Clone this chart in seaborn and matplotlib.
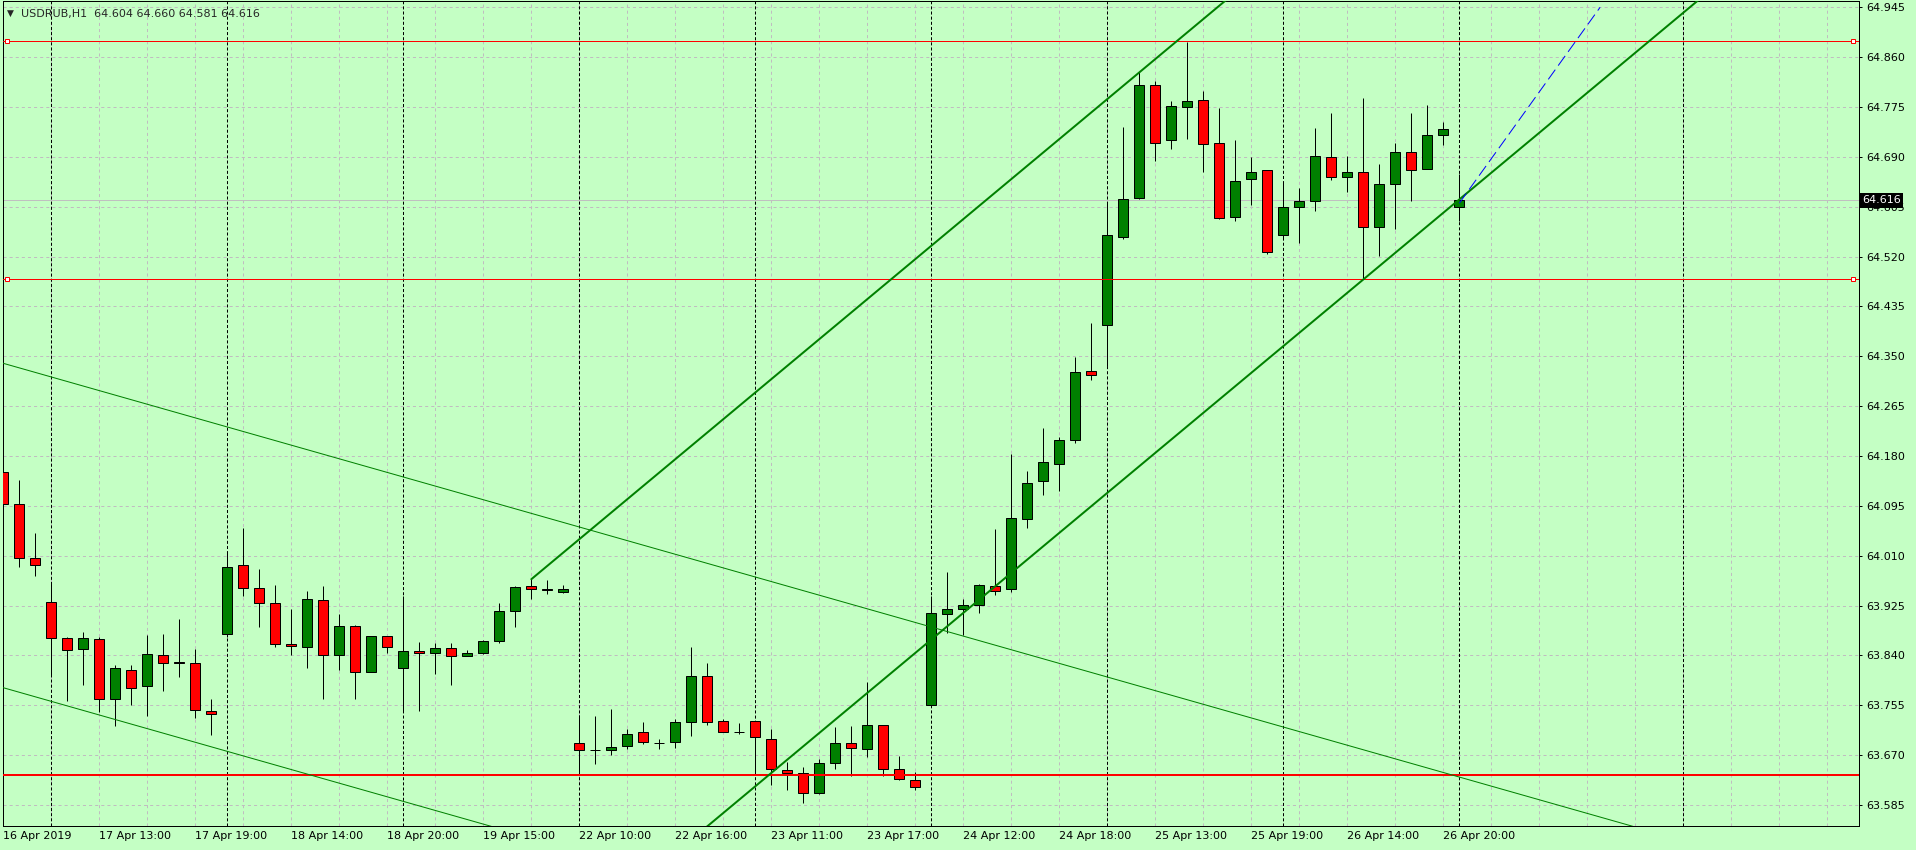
import numpy as np
import pandas as pd
import matplotlib
matplotlib.use('Agg')
import matplotlib.pyplot as plt
import matplotlib.transforms as mtransforms
from matplotlib.ticker import MultipleLocator
import seaborn as sns

# === Data: USDRUB H1 bars ===
opens = [64.152, 64.099, 64.007, 63.931, 63.869, 63.851, 63.868, 63.765, 63.815, 63.788,
         63.840, 63.829, 63.828, 63.745, 63.876, 63.994, 63.955, 63.929, 63.859, 63.854,
         63.934, 63.840, 63.890, 63.811, 63.873, 63.818, 63.847, 63.844, 63.852, 63.839,
         63.845, 63.864, 63.915, 63.958, 63.954, 63.949, 63.691, 63.679, 63.679, 63.685,
         63.709, 63.691, 63.692, 63.726, 63.805, 63.728, 63.709, 63.728, 63.697, 63.645,
         63.640, 63.605, 63.657, 63.691, 63.680, 63.721, 63.647, 63.628, 63.755, 63.910,
         63.920, 63.926, 63.958, 63.953, 64.072, 64.137, 64.166, 64.207, 64.325, 64.403,
         64.554, 64.620, 64.813, 64.719, 64.775, 64.787, 64.714, 64.587, 64.653, 64.667,
         64.556, 64.604, 64.615, 64.690, 64.656, 64.665, 64.570, 64.644, 64.699, 64.670,
         64.728, 64.604]
highs = [64.185, 64.139, 64.048, 63.962, 63.871, 63.880, 63.871, 63.823, 63.823, 63.875,
         63.877, 63.902, 63.851, 63.766, 64.014, 64.057, 63.987, 63.960, 63.919, 63.950,
         63.958, 63.911, 63.892, 63.874, 63.874, 63.941, 63.863, 63.861, 63.861, 63.849,
         63.866, 63.929, 63.958, 63.970, 63.969, 63.960, 63.738, 63.737, 63.748, 63.714,
         63.727, 63.698, 63.731, 63.855, 63.827, 63.731, 63.725, 63.728, 63.715, 63.659,
         63.650, 63.664, 63.718, 63.720, 63.794, 63.722, 63.668, 63.641, 63.941, 63.982,
         63.936, 63.962, 64.056, 64.184, 64.155, 64.227, 64.213, 64.349, 64.406, 64.613,
         64.741, 64.834, 64.820, 64.786, 64.886, 64.803, 64.773, 64.718, 64.689, 64.667,
         64.646, 64.637, 64.740, 64.764, 64.691, 64.790, 64.677, 64.713, 64.764, 64.779,
         64.749, 64.660]
lows = [64.092, 63.990, 63.976, 63.805, 63.763, 63.790, 63.744, 63.719, 63.755, 63.737,
        63.780, 63.804, 63.734, 63.705, 63.872, 63.942, 63.889, 63.855, 63.840, 63.818,
        63.765, 63.816, 63.765, 63.811, 63.844, 63.743, 63.746, 63.809, 63.789, 63.839,
        63.843, 63.862, 63.889, 63.937, 63.944, 63.947, 63.641, 63.655, 63.670, 63.680,
        63.689, 63.681, 63.683, 63.702, 63.721, 63.709, 63.706, 63.641, 63.620, 63.610,
        63.588, 63.604, 63.646, 63.634, 63.667, 63.634, 63.627, 63.610, 63.754, 63.878,
        63.875, 63.913, 63.943, 63.949, 64.058, 64.114, 64.121, 64.202, 64.310, 64.334,
        64.550, 64.618, 64.683, 64.703, 64.720, 64.664, 64.584, 64.580, 64.608, 64.525,
        64.550, 64.543, 64.598, 64.651, 64.630, 64.481, 64.521, 64.567, 64.615, 64.670,
        64.710, 64.581]
closes = [64.099, 64.007, 63.995, 63.869, 63.849, 63.869, 63.765, 63.818, 63.784, 63.842,
          63.827, 63.828, 63.747, 63.740, 63.990, 63.955, 63.929, 63.859, 63.856, 63.936,
          63.840, 63.890, 63.811, 63.873, 63.854, 63.847, 63.844, 63.852, 63.839, 63.845,
          63.864, 63.915, 63.956, 63.954, 63.951, 63.953, 63.679, 63.678, 63.684, 63.706,
          63.692, 63.690, 63.726, 63.805, 63.727, 63.709, 63.709, 63.701, 63.647, 63.640,
          63.605, 63.657, 63.691, 63.682, 63.721, 63.647, 63.629, 63.616, 63.912, 63.920,
          63.926, 63.960, 63.950, 64.074, 64.134, 64.170, 64.207, 64.323, 64.318, 64.556,
          64.619, 64.813, 64.714, 64.777, 64.786, 64.712, 64.586, 64.649, 64.665, 64.527,
          64.604, 64.615, 64.692, 64.656, 64.665, 64.570, 64.644, 64.699, 64.667, 64.728,
          64.738, 64.616]

x_labels = ['16 Apr 2019', '17 Apr 13:00', '17 Apr 19:00', '18 Apr 14:00', '18 Apr 20:00',
            '19 Apr 15:00', '22 Apr 10:00', '22 Apr 16:00', '23 Apr 11:00', '23 Apr 17:00',
            '24 Apr 12:00', '24 Apr 18:00', '25 Apr 13:00', '25 Apr 19:00', '26 Apr 14:00',
            '26 Apr 20:00']
day_start_bars = [3, 14, 25, 36, 47, 58, 69, 80, 91, 105]
price_ticks = [64.945, 64.860, 64.775, 64.690, 64.605, 64.520, 64.435, 64.350, 64.265,
               64.180, 64.095, 64.010, 63.925, 63.840, 63.755, 63.670, 63.585]

red_levels = [64.887, 64.481]      # thin lines with end markers
support_level = 63.636             # thick line
bid_price = 64.616
title = 'USDRUB,H1  64.604 64.660 64.581 64.616'

# trend objects (bar index, price)
channel_a = (33, 63.970)
channel_b = (71, 64.834)
channel_low = (85, 64.481)
down_a = (0, 64.338)
down_b = (100, 63.563)
down_low = (0, 63.785)
proj_start = (91, 64.611)
proj_end = (99.8, 64.945)

# === Style ===
sns.set_style('white')
plt.rcParams['font.family'] = ['DejaVu Sans']
plt.rcParams['lines.scale_dashes'] = False

BG = '#c4ffc4'
GRID = '#c0bcc0'
GREEN = '#008000'
RED = '#ff0000'
px = 0.72  # one pixel in points at 100 dpi

fig = plt.figure(figsize=(19.16, 8.5), dpi=100, facecolor=BG)
ax = fig.add_axes([2.7 / 1916, 1 - 825.7 / 850, (1859.3 - 2.7) / 1916, (825.7 - 1) / 850])
ax.set_facecolor(BG)

df = pd.DataFrame({'open': opens, 'high': highs, 'low': lows, 'close': closes})
df['bar'] = np.arange(len(df))
up = df['close'] >= df['open']
body = df['close'] - df['open']
body = body.where(body.abs() > 0.0004, 0.0004)

# === Candles ===
ax.vlines(df['bar'], df['low'], df['high'], color='black', lw=px, zorder=3)
ax.bar(df['bar'], body, bottom=df['open'], width=0.64,
       color=np.where(up, GREEN, RED), edgecolor='black', linewidth=px, zorder=4)

# === Horizontal levels ===
blend = mtransforms.blended_transform_factory(ax.transAxes, ax.transData)
ax.axhline(bid_price, color='#c0c0c0', lw=px, zorder=2)
for lvl in red_levels:
    ax.axhline(lvl, color=RED, lw=px, zorder=5)
    ax.plot([0.0025, 0.9965], [lvl, lvl], transform=blend, ls='none', marker='s',
            ms=3.3, mfc='white', mec=RED, mew=px, clip_on=False, zorder=6)
ax.axhline(support_level, color=RED, lw=2 * px, zorder=5)

# === Day separators ===
for b in day_start_bars:
    ax.axvline(b, color='black', lw=px, linestyle=(0, (2.2, 1.5)), zorder=2.5)

# === Trendlines ===
xs = np.array([channel_a[0], 125])
slope = (channel_b[1] - channel_a[1]) / (channel_b[0] - channel_a[0])
ax.plot(xs, channel_a[1] + slope * (xs - channel_a[0]), color=GREEN, lw=2 * px, zorder=6)
ax.plot(xs, channel_low[1] + slope * (xs - channel_low[0]), color=GREEN, lw=2 * px, zorder=6)

xs = np.array([-2, 125])
slope = (down_b[1] - down_a[1]) / (down_b[0] - down_a[0])
ax.plot(xs, down_a[1] + slope * (xs - down_a[0]), color=GREEN, lw=px, zorder=6)
ax.plot(xs, down_low[1] + slope * (xs - down_low[0]), color=GREEN, lw=px, zorder=6)

ax.plot([proj_start[0], proj_end[0]], [proj_start[1], proj_end[1]], color='#0000ff',
        lw=px, linestyle=(0, (8.6, 3.6)), zorder=6)

# === Axes ===
ax.set_xlim(-0.04, 116.0)
ax.set_ylim(63.5498, 64.9557)

ax.set_xticks(range(0, 6 * len(x_labels), 6))
ax.set_xticklabels(x_labels, ha='left')
ax.xaxis.set_minor_locator(MultipleLocator(3))
ax.yaxis.tick_right()
ax.set_yticks(price_ticks)
ax.set_yticklabels([f'{v:.3f}' for v in price_ticks])

ax.tick_params(axis='x', which='major', direction='out', length=2.9, width=px, pad=1.2,
               labelsize=8, colors='black')
ax.tick_params(axis='y', which='major', direction='out', length=2.2, width=px, pad=2.8,
               labelsize=8, colors='black', right=True, left=False)
ax.tick_params(which='minor', length=0)

ax.set_axisbelow(True)
ax.grid(True, axis='x', which='both', color=GRID, lw=px, linestyle=(0, (2.2, 2.2)))
ax.grid(True, axis='y', which='major', color=GRID, lw=px, linestyle=(0, (2.2, 2.2)))
for s in ax.spines.values():
    s.set_color('black')
    s.set_linewidth(px)

# bid price box
ax.text(1.0016, bid_price, f'{bid_price:.3f}', transform=blend, color='white', fontsize=8,
        va='center', ha='left', clip_on=False, zorder=10,
        bbox=dict(boxstyle='square,pad=0.22', fc='black', ec='none'))

# title
fig.text(7 / 1916, 1 - 16.2 / 850, '\u25bc', fontsize=6.5, va='baseline', ha='left')
fig.text(20.7 / 1916, 1 - 16.7 / 850, title, fontsize=8, va='baseline', ha='left')

fig.savefig('out.png', dpi=100, facecolor=BG)
